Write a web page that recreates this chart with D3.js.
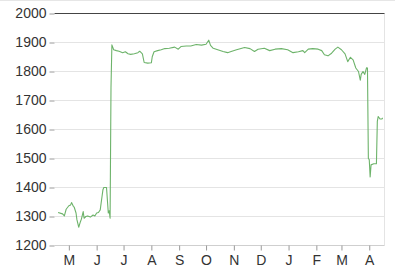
<!DOCTYPE html>
<html>
<head>
<meta charset="utf-8">
<script src="https://cdn.jsdelivr.net/npm/d3@7"></script>
<style>
  body { margin: 0; background: #fff; }
  svg { display: block; font-family: "Liberation Sans", Arial, sans-serif; }
  .tick text { fill: #333; font-size: 14px; }
</style>
</head>
<body>
<div id="chart"></div>
<script>
// Daily series (date, value)
const dates = [
  "2014-04-19","2014-04-24","2014-04-26","2014-04-28","2014-05-01","2014-05-03","2014-05-04","2014-05-06",
  "2014-05-07","2014-05-09","2014-05-10","2014-05-12","2014-05-14","2014-05-15","2014-05-17","2014-05-18",
  "2014-05-20","2014-05-22","2014-05-25","2014-05-28","2014-05-30","2014-06-01","2014-06-03","2014-06-05",
  "2014-06-06","2014-06-07","2014-06-08","2014-06-09","2014-06-12","2014-06-14","2014-06-15","2014-06-16",
  "2014-06-17","2014-06-18","2014-06-20","2014-06-23","2014-06-26","2014-06-30","2014-07-03","2014-07-06",
  "2014-07-09","2014-07-13","2014-07-17","2014-07-19","2014-07-22","2014-07-24","2014-07-28","2014-08-01",
  "2014-08-02","2014-08-04","2014-08-08","2014-08-12","2014-08-16","2014-08-21","2014-08-27","2014-08-31",
  "2014-09-03","2014-09-09","2014-09-14","2014-09-20","2014-09-26","2014-10-01","2014-10-04","2014-10-06",
  "2014-10-09","2014-10-14","2014-10-20","2014-10-25","2014-10-29","2014-11-04","2014-11-13","2014-11-19",
  "2014-11-24","2014-11-28","2014-12-05","2014-12-11","2014-12-17","2014-12-24","2014-12-31","2015-01-06",
  "2015-01-12","2015-01-17","2015-01-19","2015-01-23","2015-01-28","2015-02-03","2015-02-07","2015-02-10",
  "2015-02-14","2015-02-18","2015-02-22","2015-02-25","2015-03-01","2015-03-05","2015-03-08","2015-03-11",
  "2015-03-14","2015-03-17","2015-03-20","2015-03-22","2015-03-23","2015-03-25","2015-03-27","2015-03-29",
  "2015-03-30","2015-03-31","2015-04-01","2015-04-02","2015-04-03","2015-04-06","2015-04-09","2015-04-10",
  "2015-04-11","2015-04-13","2015-04-15","2015-04-16"
];
const values = [
  1314, 1309, 1302, 1325, 1337, 1340, 1348, 1335,
  1332, 1312, 1289, 1263, 1283, 1291, 1317, 1294,
  1300, 1302, 1298, 1305, 1302, 1312, 1314, 1323,
  1346, 1369, 1392, 1400, 1400, 1312, 1320, 1294,
  1744, 1892, 1875, 1872, 1870, 1865, 1868, 1861,
  1859, 1861, 1865, 1870, 1861, 1831, 1829, 1830,
  1851, 1868, 1872, 1875, 1879, 1880, 1884, 1877,
  1886, 1888, 1888, 1893, 1891, 1894, 1908, 1890,
  1880, 1875, 1869, 1865, 1869, 1875, 1883, 1879,
  1869, 1877, 1880, 1872, 1877, 1879, 1875, 1865,
  1868, 1872, 1865, 1877, 1879, 1877, 1872, 1858,
  1854, 1863, 1877, 1884, 1875, 1861, 1834, 1849,
  1840, 1812, 1800, 1770, 1790, 1800, 1790, 1813,
  1812, 1500, 1496, 1436, 1478, 1482, 1482, 1628,
  1645, 1636, 1636, 1640
];
const yTicks = [1200, 1300, 1400, 1500, 1600, 1700, 1800, 1900, 2000];
const xDomain = ["2014-04-15", "2015-04-18"];

const W = 395, H = 269;
const mLeft = 54.5, mRight = 384.5, mTop = 13.5, mBottom = 245.5;
const parse = d3.timeParse("%Y-%m-%d");
const data = dates.map((d, i) => ({ date: parse(d), value: values[i] }));

const x = d3.scaleTime().domain(xDomain.map(parse)).range([mLeft, mRight]);
const y = d3.scaleLinear().domain([1200, 2000]).range([mBottom, mTop]);

const svg = d3.select("#chart").append("svg").attr("width", W).attr("height", H);

// faint top edge
svg.append("line").attr("x1", 0).attr("x2", W).attr("y1", 0.5).attr("y2", 0.5)
  .attr("stroke", "#e6e6e6");

// grid
svg.append("g").selectAll("line").data(yTicks.filter(t => t > 1200 && t < 2000)).join("line")
  .attr("x1", mLeft).attr("x2", mRight)
  .attr("y1", d => y(d)).attr("y2", d => y(d))
  .attr("stroke", "#e4e4e4");

// right border
svg.append("line").attr("x1", mRight).attr("x2", mRight).attr("y1", mTop).attr("y2", mBottom)
  .attr("stroke", "#e4e4e4");

// bottom axis line and top line
svg.append("line").attr("x1", mLeft).attr("x2", mRight).attr("y1", mBottom).attr("y2", mBottom)
  .attr("stroke", "#cfcfcf");
svg.append("line").attr("x1", mLeft).attr("x2", mRight).attr("y1", mTop).attr("y2", mTop)
  .attr("stroke", "#444");

// y axis
const yAxis = svg.append("g").attr("transform", `translate(${mLeft},0)`)
  .call(d3.axisLeft(y).tickValues(yTicks).tickSize(5).tickPadding(3).tickFormat(d3.format("d")));
yAxis.select(".domain").remove();
yAxis.selectAll(".tick line").attr("stroke", "#999");

// x axis
const xAxis = svg.append("g").attr("transform", `translate(0,${mBottom})`)
  .call(d3.axisBottom(x).ticks(d3.timeMonth.every(1)).tickSize(5).tickPadding(5)
    .tickFormat(d => d3.timeFormat("%B")(d)[0]));
xAxis.select(".domain").remove();
xAxis.selectAll(".tick line").attr("stroke", "#999");

// series
svg.append("path").datum(data)
  .attr("fill", "none")
  .attr("stroke", "#6db36a")
  .attr("stroke-width", 1.1)
  .attr("stroke-linejoin", "round")
  .attr("d", d3.line().x(d => x(d.date)).y(d => y(d.value)));
</script>
</body>
</html>
